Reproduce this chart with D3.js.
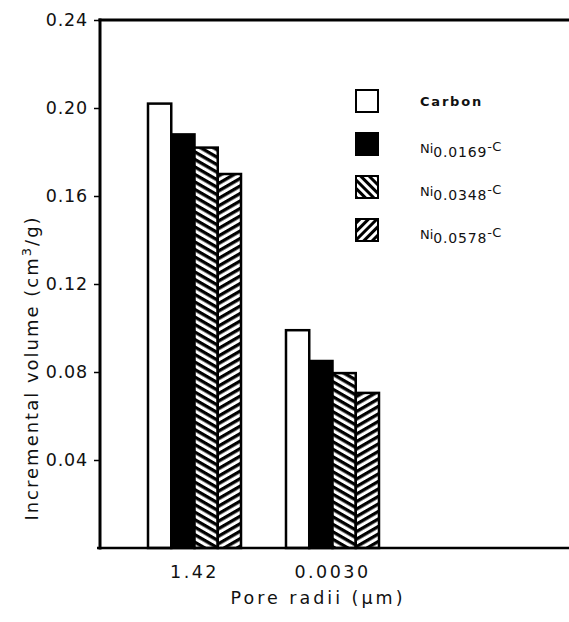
<!DOCTYPE html>
<html><head><meta charset="utf-8">
<script src="https://cdn.jsdelivr.net/npm/d3@7"></script>
<style>body{margin:0;background:#fff}svg{display:block}text{font-family:"DejaVu Sans",sans-serif;fill:#111}</style>
</head><body>
<script>
const groups = ["1.42", "0.0030"];
const series = ["Carbon", "Ni0.0169-C", "Ni0.0348-C", "Ni0.0578-C"];
const seriesSub = ["", "0.0169", "0.0348", "0.0578"];
const carbon = [0.202, 0.099];
const ni0169 = [0.188, 0.085];
const ni0348 = [0.182, 0.0795];
const ni0578 = [0.170, 0.0705];
const yTicks = [0.04, 0.08, 0.12, 0.16, 0.20, 0.24];

(function () {
const values = [carbon, ni0169, ni0348, ni0578];
const data = [];
groups.forEach((g, gi) => series.forEach((s, si) => data.push({g, s, si, v: values[si][gi]})));

const W = 569, H = 622;
const svg = d3.select("body").append("svg").attr("width", W).attr("height", H);
const defs = svg.append("defs");
function hatch(id, angle, gap, sw) {
  const p = defs.append("pattern").attr("id", id).attr("patternUnits", "userSpaceOnUse")
    .attr("width", 20).attr("height", gap).attr("patternTransform", `rotate(${angle})`);
  p.append("rect").attr("width", 20).attr("height", gap).attr("fill", "#fff");
  p.append("rect").attr("y", 0).attr("width", 20).attr("height", sw).attr("fill", "#000");
}
hatch("h1", 30, 6.5, 3.3);
hatch("h2", -30, 6.5, 3.3);
hatch("lh1", 45, 6, 3);
hatch("lh2", -45, 6, 3);
const fills = ["#fff", "#000", "url(#h1)", "url(#h2)"];
const lfills = ["#fff", "#000", "url(#lh1)", "url(#lh2)"];

const mLeft = 100, mTop = 20, mBottom = 548, mRight = 569;
const y = d3.scaleLinear().domain([0, 0.24]).range([mBottom, mTop]);
const x0 = d3.scaleBand().domain(groups).range([148, 379]).paddingInner(0.326);
const x1 = d3.scaleBand().domain(series).range([0, x0.bandwidth()]);

svg.append("g").selectAll("rect").data(data).join("rect")
  .attr("x", d => x0(d.g) + x1(d.s))
  .attr("y", d => y(d.v))
  .attr("width", x1.bandwidth())
  .attr("height", d => y(0) - y(d.v))
  .attr("fill", d => fills[d.si])
  .attr("stroke", "#000").attr("stroke-width", 2.5);

const yAxis = d3.axisLeft(y).tickValues(yTicks).tickFormat(d3.format(".2f")).tickSize(6).tickPadding(6);
const ga = svg.append("g").attr("transform", `translate(${mLeft},0)`).call(yAxis);
ga.select(".domain").remove();
ga.selectAll("line").attr("stroke", "#000").attr("stroke-width", 1.5);
ga.selectAll("text").attr("font-size", 17.5).attr("letter-spacing", 0.8).attr("fill", "#111");

svg.append("line").attr("x1", mLeft).attr("x2", mLeft).attr("y1", mTop - 1.5).attr("y2", mBottom + 1.5).attr("stroke", "#000").attr("stroke-width", 3);
svg.append("line").attr("x1", mLeft - 1.5).attr("x2", mRight).attr("y1", mTop).attr("y2", mTop).attr("stroke", "#000").attr("stroke-width", 3);
svg.append("line").attr("x1", mLeft - 3).attr("x2", mRight).attr("y1", mBottom).attr("y2", mBottom).attr("stroke", "#000").attr("stroke-width", 2.5);

const xAxis = d3.axisBottom(x0).tickSize(0).tickPadding(18);
const gx = svg.append("g").attr("transform", `translate(0,${mBottom})`).call(xAxis);
gx.select(".domain").remove();
gx.selectAll("text").attr("font-size", 17.5).attr("letter-spacing", 2.5).attr("fill", "#111");

svg.append("text").attr("x", 318).attr("y", 604).attr("text-anchor", "middle")
  .attr("font-size", 17.5).attr("letter-spacing", 3).text("Pore radii (μm)");
const yt = svg.append("text").attr("transform", `translate(38,368) rotate(-90)`).attr("text-anchor", "middle")
  .attr("font-size", 18).attr("letter-spacing", 2);
yt.append("tspan").text("Incremental volume (cm");
yt.append("tspan").attr("font-size", 13).attr("dy", -7).text("3");
yt.append("tspan").attr("dy", 7).text("/g)");

const leg = svg.append("g");
const ly = d3.scalePoint().domain(series).range([101, 230]);
series.forEach((s, i) => {
  leg.append("rect").attr("x", 356).attr("y", ly(s) - 11).attr("width", 22).attr("height", 22)
    .attr("fill", lfills[i]).attr("stroke", "#000").attr("stroke-width", 2);
  const t = leg.append("text").attr("x", 420).attr("font-size", 13);
  if (i === 0) { t.attr("y", ly(s) + 5).attr("letter-spacing", 1.8).attr("font-weight", "bold").text("Carbon"); }
  else {
    t.attr("y", ly(s) + 9);
    t.append("tspan").text("Ni");
    t.append("tspan").attr("dy", 4).attr("font-size", 14).attr("letter-spacing", 0.8).text(seriesSub[i]);
    t.append("tspan").attr("dy", -6).attr("letter-spacing", 0.5).text("-C");
  }
});
})();
</script>
</body></html>
